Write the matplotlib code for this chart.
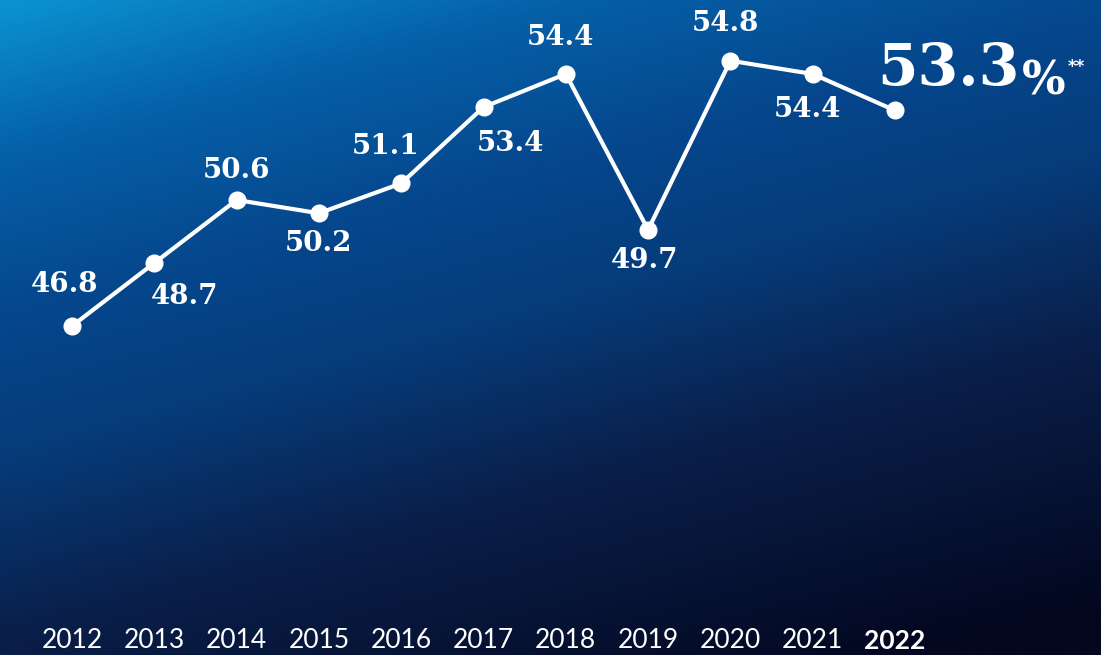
import numpy as np
import matplotlib.pyplot as plt
from matplotlib.colors import LinearSegmentedColormap
from matplotlib import transforms

years = [2012, 2013, 2014, 2015, 2016, 2017, 2018, 2019, 2020, 2021, 2022]
values = [46.8, 48.7, 50.6, 50.2, 51.1, 53.4, 54.4, 49.7, 54.8, 54.4, 53.3]
# label offsets (pixels) from each point
label_offsets = [(-7, 41), (30, -34), (0, 29), (0, -30), (-16, 37), (27, -36),
                 (-5, 36), (-3, -31), (-5, 37), (-5, -36)]

fig = plt.figure(figsize=(11.01, 6.55), dpi=100)
ax = fig.add_axes([0, 0, 1, 1])

# background gradient (light blue top-left -> navy bottom-right)
bg = LinearSegmentedColormap.from_list('bg', [
    (0.0, '#0b93d1'), (0.17, '#0560a8'), (0.35, '#05468c'),
    (0.5, '#063c7a'), (0.7, '#0a1f4a'), (1.0, '#03071f')])
gx, gy = np.meshgrid(np.linspace(0, 1, 400), np.linspace(0, 1, 300))
ax.imshow(0.72 * gy + 0.33 * gx, cmap=bg, vmin=0, vmax=1, aspect='auto',
          origin='upper', extent=[0, 1, 0, 1], transform=ax.transAxes, zorder=0)

ax.plot(years, values, color='white', lw=3, marker='o', markersize=12,
        solid_capstyle='round', zorder=3)

ax.set_xlim(2011.125, 2024.503)
ax.set_ylim(36.878, 56.631)
ax.axis('off')

for yr, v, (dx, dy) in zip(years[:-1], values[:-1], label_offsets):
    ax.annotate(f"{v}", xy=(yr, v), xytext=(dx, dy), textcoords='offset pixels',
                ha='center', va='center', color='white', fontsize=20,
                fontweight='bold', family='DejaVu Serif')

# highlighted last value
big = ax.annotate(f"{values[-1]}", xy=(years[-1], values[-1]), xytext=(-18, 25),
                  textcoords='offset pixels', ha='left', va='baseline',
                  color='white', fontsize=42, fontweight='bold',
                  family='DejaVu Serif')
pct = ax.annotate("%", xy=(1, 0), xycoords=big, xytext=(2, 3),
                  textcoords='offset pixels', ha='left', va='baseline',
                  color='white', fontsize=33, fontweight='bold',
                  family='DejaVu Serif')
ax.annotate("**", xy=(1, 1), xycoords=pct, xytext=(3, 0),
            textcoords='offset pixels', ha='left', va='top',
            color='white', fontsize=12, fontweight='bold', family='DejaVu Sans')

# year labels
trans = transforms.blended_transform_factory(ax.transData, ax.transAxes)
for yr in years:
    last = yr == years[-1]
    ax.text(yr, 0.022, str(yr), transform=trans, ha='center', va='center',
            color='white', fontsize=19, family='Lato',
            fontweight='bold' if last else 'normal')

fig.savefig('out.png', dpi=100)
